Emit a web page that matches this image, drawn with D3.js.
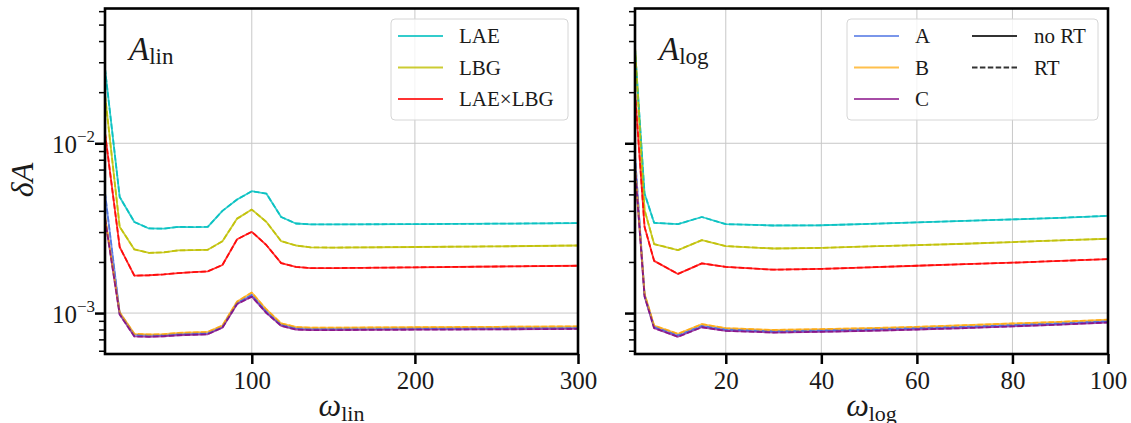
<!DOCTYPE html>
<html>
<head>
<meta charset="utf-8">
<script src="https://cdn.jsdelivr.net/npm/d3@7"></script>
<style>
  body { margin: 0; background: #fff; }
  text { font-family: "Liberation Serif", "DejaVu Serif", serif; fill: #1a1a1a; }
</style>
</head>
<body>
<script>
// ---- data ----
var omegaLin = [10, 19, 28, 37, 46, 55, 64, 73, 82, 91, 100, 109, 118, 127, 136, 150, 200, 250, 300];
var laeLin   = [0.0275, 0.00483, 0.00344, 0.00315, 0.00314, 0.00322, 0.00321, 0.00322, 0.00400, 0.00467, 0.00522, 0.00505, 0.00368, 0.00337, 0.00333, 0.00333, 0.00334, 0.00336, 0.00339];
var lbgLin   = [0.0192, 0.00322, 0.00237, 0.00226, 0.00228, 0.00234, 0.00235, 0.00236, 0.00265, 0.00360, 0.00407, 0.00344, 0.00265, 0.00250, 0.00244, 0.00243, 0.00245, 0.00247, 0.00250];
var crossLin = [0.0115, 0.00245, 0.00166, 0.00167, 0.00169, 0.00172, 0.00174, 0.00176, 0.00192, 0.00272, 0.00301, 0.00251, 0.00197, 0.00187, 0.00184, 0.00184, 0.00186, 0.00188, 0.00190];
var aLin     = [0.0051, 0.00100, 0.000745, 0.000738, 0.000742, 0.000752, 0.000757, 0.000762, 0.00083, 0.00115, 0.00128, 0.00102, 0.000855, 0.000815, 0.000808, 0.000808, 0.000812, 0.000816, 0.000820];
var bLin     = [0.0037, 0.00101, 0.000755, 0.000748, 0.000752, 0.000765, 0.000770, 0.000775, 0.000845, 0.00117, 0.00132, 0.00105, 0.000870, 0.000828, 0.000820, 0.000820, 0.000825, 0.000830, 0.000835];
var cLin     = [0.0036, 0.00098, 0.000728, 0.000725, 0.000730, 0.000740, 0.000745, 0.000750, 0.000820, 0.00113, 0.00125, 0.00100, 0.000840, 0.000800, 0.000794, 0.000794, 0.000798, 0.000802, 0.000806];

var omegaLog = [1, 3, 5, 10, 15, 20, 30, 40, 50, 60, 70, 80, 90, 100];
var laeLog   = [0.036, 0.00506, 0.00340, 0.00334, 0.00368, 0.00334, 0.00328, 0.00329, 0.00335, 0.00342, 0.00349, 0.00356, 0.00364, 0.00374];
var lbgLog   = [0.037, 0.00404, 0.00255, 0.00235, 0.00269, 0.00248, 0.00240, 0.00242, 0.00247, 0.00251, 0.00256, 0.00262, 0.00268, 0.00274];
var crossLog = [0.020, 0.00322, 0.00203, 0.00170, 0.00196, 0.00187, 0.00180, 0.00182, 0.00186, 0.00190, 0.00194, 0.00198, 0.00203, 0.00208];
var aLog     = [0.0085, 0.00128, 0.000830, 0.000740, 0.000840, 0.000800, 0.000780, 0.000790, 0.000800, 0.000815, 0.000830, 0.000850, 0.000870, 0.000895];
var bLog     = [0.0075, 0.00130, 0.000845, 0.000755, 0.000860, 0.000815, 0.000795, 0.000805, 0.000815, 0.000830, 0.000848, 0.000868, 0.000888, 0.000915];
var cLog     = [0.0072, 0.00125, 0.000815, 0.000725, 0.000825, 0.000785, 0.000768, 0.000776, 0.000786, 0.000800, 0.000815, 0.000835, 0.000855, 0.000880];

var yTicks = [1e-3, 1e-2];
var yTickExp = ["\u22123", "\u22122"];
var xTicksLin = [100, 200, 300];
var xTicksLog = [20, 40, 60, 80, 100];

// ---- layout ----
var width = 1131, height = 423;
var plotTop = 8.5, plotBottom = 354;

var svg = d3.select("body").append("svg")
    .attr("width", width)
    .attr("height", height);

var y = d3.scaleLog().domain([5.74e-4, 0.0622]).range([plotBottom, plotTop]);

// minor ticks 2..9 per decade inside the domain
var yMinor = [];
[1e-4, 1e-3, 1e-2].forEach(function(d) {
    for (var k = 2; k <= 9; k++) {
        var v = d * k;
        if (v > y.domain()[0] && v < y.domain()[1]) yMinor.push(v);
    }
});

var colors = {
    lae: "#00bfbf", lbg: "#bfbf00", cross: "#ff0000",
    a: "#4169e1", b: "#ffa500", c: "#800080"
};

function drawPanel(opt) {
    var x = d3.scaleLinear().domain(opt.domain).range([opt.left, opt.right]);
    var g = svg.append("g");

    g.append("clipPath").attr("id", "clip" + opt.id)
        .append("rect")
        .attr("x", opt.left).attr("y", plotTop)
        .attr("width", opt.right - opt.left).attr("height", plotBottom - plotTop);

    // grid
    g.selectAll(".gx").data(opt.xTicks.filter(function(d) { return d < opt.domain[1]; }))
        .enter().append("line")
        .attr("x1", function(d) { return x(d); }).attr("x2", function(d) { return x(d); })
        .attr("y1", plotTop).attr("y2", plotBottom)
        .attr("stroke", "#c8c8c8").attr("stroke-width", 1);
    g.selectAll(".gy").data(yTicks).enter().append("line")
        .attr("x1", opt.left).attr("x2", opt.right)
        .attr("y1", function(d) { return y(d); }).attr("y2", function(d) { return y(d); })
        .attr("stroke", "#c8c8c8").attr("stroke-width", 1);

    // curves: solid (no RT) then dashed (RT)
    var line = d3.line()
        .x(function(d) { return x(d[0]); })
        .y(function(d) { return y(d[1]); });
    var lines = g.append("g").attr("clip-path", "url(#clip" + opt.id + ")");
    [false, true].forEach(function(dashed) {
        opt.series.forEach(function(s) {
            lines.append("path")
                .datum(opt.xs.map(function(v, i) { return [v, s.values[i]]; }))
                .attr("d", line)
                .attr("fill", "none")
                .attr("stroke", s.color)
                .attr("stroke-opacity", s.alpha)
                .attr("stroke-width", 1.8)
                .attr("stroke-linejoin", "round")
                .attr("stroke-dasharray", dashed ? "5.5,2.4" : null);
        });
    });

    // y ticks
    var yMaj = g.append("g").attr("transform", "translate(" + opt.left + ",0)")
        .call(d3.axisLeft(y).tickValues(yTicks).tickSize(10).tickFormat(""));
    yMaj.select(".domain").remove();
    yMaj.selectAll("line").attr("stroke", "#000").attr("stroke-width", 2.5);
    var yMin = g.append("g").attr("transform", "translate(" + opt.left + ",0)")
        .call(d3.axisLeft(y).tickValues(yMinor).tickSize(6).tickFormat(""));
    yMin.select(".domain").remove();
    yMin.selectAll("line").attr("stroke", "#000").attr("stroke-width", 1.5);

    if (opt.yLabels) {
        yTicks.forEach(function(t, i) {
            var tx = g.append("text")
                .attr("x", opt.left - 10).attr("y", y(t) + 10)
                .attr("text-anchor", "end")
                .style("font-size", "25px");
            tx.append("tspan").text("10");
            tx.append("tspan").attr("dy", -11).style("font-size", "17px").text(yTickExp[i]);
        });
        g.append("text")
            .attr("transform", "translate(33," + 180 + ") rotate(-90)")
            .attr("text-anchor", "middle")
            .style("font-size", "32px")
            .html("<tspan font-style='italic'>\u03b4A</tspan>");
    }

    // x ticks
    var xa = g.append("g").attr("transform", "translate(0," + plotBottom + ")")
        .call(d3.axisBottom(x).tickValues(opt.xTicks).tickSize(10).tickPadding(7));
    xa.select(".domain").remove();
    xa.selectAll("line").attr("stroke", "#000").attr("stroke-width", 2.5);
    xa.selectAll("text")
        .attr("fill", "#1a1a1a")
        .style("font-family", "Liberation Serif, serif")
        .style("font-size", "25px");

    // x label
    var xl = g.append("text")
        .attr("x", (opt.left + opt.right) / 2).attr("y", 416)
        .attr("text-anchor", "middle")
        .style("font-size", "32px");
    xl.append("tspan").attr("font-style", "italic").text("\u03c9");
    xl.append("tspan").attr("dy", 5).style("font-size", "22px").text(opt.sub);

    // panel title
    var tt = g.append("text")
        .attr("x", opt.left + 24).attr("y", 60)
        .style("font-size", "33px");
    tt.append("tspan").attr("font-style", "italic").text("A");
    tt.append("tspan").attr("dy", 4).style("font-size", "23px").text(opt.sub);

    // frame
    g.append("rect")
        .attr("x", opt.left).attr("y", plotTop)
        .attr("width", opt.right - opt.left).attr("height", plotBottom - plotTop)
        .attr("fill", "none").attr("stroke", "#000").attr("stroke-width", 2.6);

    return g;
}

function legendBox(g, x0, x1) {
    g.append("rect")
        .attr("x", x0).attr("y", 19)
        .attr("width", x1 - x0).attr("height", 101)
        .attr("rx", 4)
        .attr("fill", "#fff").attr("fill-opacity", 0.8)
        .attr("stroke", "#d6d6d6").attr("stroke-width", 1);
}

function legendRow(g, xLine, xText, yRow, color, alpha, dash, label) {
    g.append("line")
        .attr("x1", xLine).attr("x2", xLine + 45)
        .attr("y1", yRow).attr("y2", yRow)
        .attr("stroke", color).attr("stroke-opacity", alpha)
        .attr("stroke-width", 1.8)
        .attr("stroke-dasharray", dash);
    g.append("text")
        .attr("x", xText).attr("y", yRow + 7)
        .style("font-size", "21px")
        .text(label);
}

var rows = [36, 67.5, 99];

var left = drawPanel({
    id: "L", domain: [10, 300], left: 105, right: 578,
    xs: omegaLin, xTicks: xTicksLin, sub: "lin", yLabels: true,
    series: [
        { values: laeLin, color: colors.lae, alpha: 0.8 },
        { values: lbgLin, color: colors.lbg, alpha: 0.8 },
        { values: crossLin, color: colors.cross, alpha: 0.8 },
        { values: aLin, color: colors.a, alpha: 0.7 },
        { values: bLin, color: colors.b, alpha: 0.7 },
        { values: cLin, color: colors.c, alpha: 0.7 }
    ]
});
legendBox(left, 391, 568);
legendRow(left, 398, 459, rows[0], colors.lae, 0.8, null, "LAE");
legendRow(left, 398, 459, rows[1], colors.lbg, 0.8, null, "LBG");
legendRow(left, 398, 459, rows[2], colors.cross, 0.8, null, "LAE\u00d7LBG");

var right = drawPanel({
    id: "R", domain: [1, 100], left: 635, right: 1108,
    xs: omegaLog, xTicks: xTicksLog, sub: "log", yLabels: false,
    series: [
        { values: laeLog, color: colors.lae, alpha: 0.8 },
        { values: lbgLog, color: colors.lbg, alpha: 0.8 },
        { values: crossLog, color: colors.cross, alpha: 0.8 },
        { values: aLog, color: colors.a, alpha: 0.7 },
        { values: bLog, color: colors.b, alpha: 0.7 },
        { values: cLog, color: colors.c, alpha: 0.7 }
    ]
});
legendBox(right, 847, 1098);
legendRow(right, 854, 915, rows[0], colors.a, 0.7, null, "A");
legendRow(right, 854, 915, rows[1], colors.b, 0.7, null, "B");
legendRow(right, 854, 915, rows[2], colors.c, 0.7, null, "C");
legendRow(right, 972, 1034, rows[0], "#333", 1, null, "no RT");
legendRow(right, 972, 1034, rows[1], "#333", 1, "5.5,2.4", "RT");
</script>
</body>
</html>
